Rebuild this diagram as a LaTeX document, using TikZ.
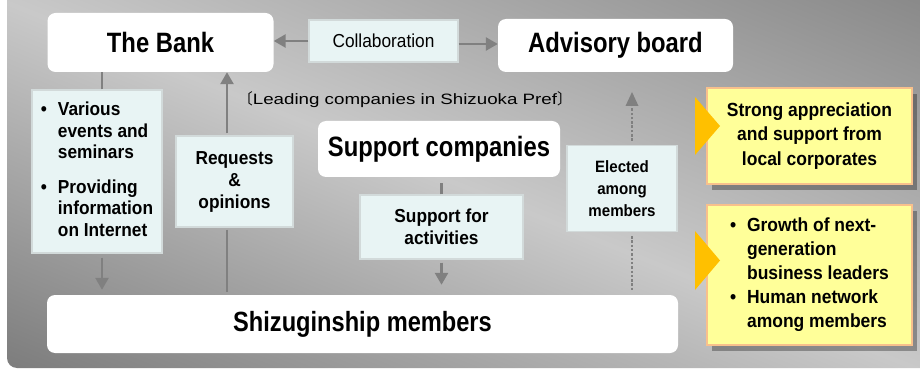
\documentclass[tikz,border=0pt]{standalone}
\usepackage{fontspec}
\setmainfont{Liberation Sans}[FakeStretch=0.92]
\newfontfamily\titlefont{Liberation Sans}[FakeStretch=0.85]
\newfontfamily\leadfont{Liberation Sans}[FakeStretch=1.25]
\newfontfamily\cjkfont{Noto Sans CJK JP}
\usetikzlibrary{arrows.meta,shadows}

\definecolor{panelDark}{HTML}{8A8A8A}
\definecolor{panelLight}{HTML}{C9C9C9}
\definecolor{panelDeep}{HTML}{7C7C7C}
\definecolor{linkGray}{HTML}{808080}
\definecolor{noteFill}{HTML}{E8F4F4}
\definecolor{noteEdge}{HTML}{D2DADA}
\definecolor{memoFill}{HTML}{FFFF99}
\definecolor{memoEdge}{HTML}{F8C08C}
\definecolor{pointerGold}{HTML}{FFC000}

% bullet and hanging indent for list lines
\newcommand\bul{\makebox[17pt][l]{•}}
\newcommand\ind{\hspace*{17pt}}

\begin{document}
\begin{tikzpicture}[x=1pt,y=-1pt,
  whitebox/.style={fill=white, rounded corners=8pt, inner sep=0pt,
    font=\titlefont\bfseries\fontsize{28}{32}\selectfont},
  notebox/.style={fill=noteFill, draw=noteEdge, line width=1.2pt, inner sep=0pt,
    align=center, font=\bfseries\fontsize{18.8}{22}\selectfont},
  memobox/.style={fill=memoFill, draw=memoEdge, line width=1.5pt, inner sep=0pt,
    minimum width=205pt,
    drop shadow={shadow xshift=5pt, shadow yshift=-6pt, fill=black, opacity=0.3},
    font=\bfseries\fontsize{19}{24.5}\selectfont},
  conn/.style={draw=linkGray, line width=2.6pt},
  arr/.style={conn, -{Triangle[width=13pt,length=12pt]}},
  dotconn/.style={draw=linkGray, line width=2.6pt, dash pattern=on 2.5pt off 1.8pt},
  pointer/.style={fill=pointerGold}
]
\useasboundingbox (0,0) rectangle (920,371);
\fill[white] (0,0) rectangle (920,371);

% shaded backdrop panel: a diagonal dark-light-dark gradient,
% drawn on a square and stretched to the panel's proportions
\begin{scope}
  \clip (0,0) rectangle (920,371);
  \clip[rounded corners=10pt] (7,-20) rectangle (960,368);
  \begin{scope}[transform canvas={xscale=9.2, yscale=3.7}]
    \shade[left color=panelDark, right color=panelDeep, middle color=panelLight,
      shading angle=-45] (-20.7,-20.7) rectangle (120.7,120.7);
  \end{scope}
\end{scope}

% main parties
\node[whitebox, minimum width=226pt, minimum height=59pt] (bank) at (160.5,42.5) {The Bank};
\node[whitebox, minimum width=235pt, minimum height=53pt] (advisory) at (615.5,45.5) {Advisory board};
\node[whitebox, minimum width=242pt, minimum height=56pt] (supco) at (439,149) {Support companies};
\node[whitebox, minimum width=631pt, minimum height=58pt,
  font=\titlefont\bfseries\fontsize{27.8}{30}\selectfont] (members) at (362.5,324) {Shizuginship members};

\node[notebox, minimum width=149pt, minimum height=42pt,
  font=\mdseries\fontsize{18.8}{22}\selectfont] (collab) at (383.5,41) {Collaboration};

\node[font=\leadfont\fontsize{15}{17}\selectfont, inner sep=0pt] (leading) at (405,100)
  {{\cjkfont 〔}Leading companies in Shizuoka Pref{\cjkfont 〕}};

% flow labels
\node[notebox, minimum width=130pt, minimum height=163pt, align=left,
  font=\bfseries\fontsize{18.8}{21.5}\selectfont] (events) at (97,171.5)
  {\begin{tabular}{@{}l@{}}\bul Various\\ \ind events and\\ \ind seminars\\[13pt]
   \bul Providing\\ \ind information\\ \ind on Internet\end{tabular}};
\node[notebox, minimum width=117pt, minimum height=91pt] (requests) at (234.5,181.5)
  {Requests\\\&\\opinions};
\node[notebox, minimum width=163pt, minimum height=64pt] (suppact) at (441.5,227)
  {Support for\\activities};
\node[notebox, minimum width=110pt, minimum height=86pt,
  font=\bfseries\fontsize{16.4}{22}\selectfont] (elected) at (622,188.5)
  {Elected\\among\\members};

% outcome notes
\node[memobox, minimum height=96pt, align=center] (appreciation) at (809.5,136)
  {Strong appreciation\\and support from\\local corporates};
\node[memobox, minimum height=140pt, font=\bfseries\fontsize{19}{24}\selectfont] (growth) at (809.5,275)
  {\begin{tabular}{@{}l@{}}\bul Growth of next-\\ \ind generation\\ \ind business leaders\\
   \bul Human network\\ \ind among members\end{tabular}};
\fill[pointer] (695,97) -- (720,126) -- (695,155) -- cycle;
\fill[pointer] (695,231) -- (720,260.5) -- (695,290) -- cycle;

% connectors
\draw[arr] (collab.west) -- (collab.west -| bank.east);
\draw[arr] ([yshift=-3pt]collab.east) -- ([yshift=-3pt]collab.east -| advisory.west);

\draw[conn] ([xshift=5pt]events.north) -- ([xshift=5pt]events.north |- bank.south);
\draw[arr, shorten <=4pt, shorten >=5pt] ([xshift=5pt]events.south) -- ([xshift=5pt]events.south |- members.north);

\draw[arr, shorten <=2pt] ([xshift=-7.5pt]requests.north) -- ([xshift=-7.5pt]requests.north |- bank.south);
\draw[conn, shorten <=2pt, shorten >=3pt] ([xshift=-7.5pt]requests.south) -- ([xshift=-7.5pt]requests.south |- members.north);

\draw[conn, shorten >=6pt] (suppact.north) -- (suppact.north |- supco.south);
\draw[arr, shorten <=3pt, shorten >=10pt] (suppact.south) -- (suppact.south |- members.north);

\draw[dotconn, shorten <=4pt, shorten >=32pt] ([xshift=10pt]elected.north) -- ([xshift=10pt]elected.north |- advisory.south);
\fill[linkGray] (632,92) -- (638.5,106) -- (625.5,106) -- cycle;
\draw[dotconn, shorten <=4pt, shorten >=3pt] ([xshift=10pt]elected.south) -- ([xshift=10pt]elected.south |- members.north);
\end{tikzpicture}
\end{document}
